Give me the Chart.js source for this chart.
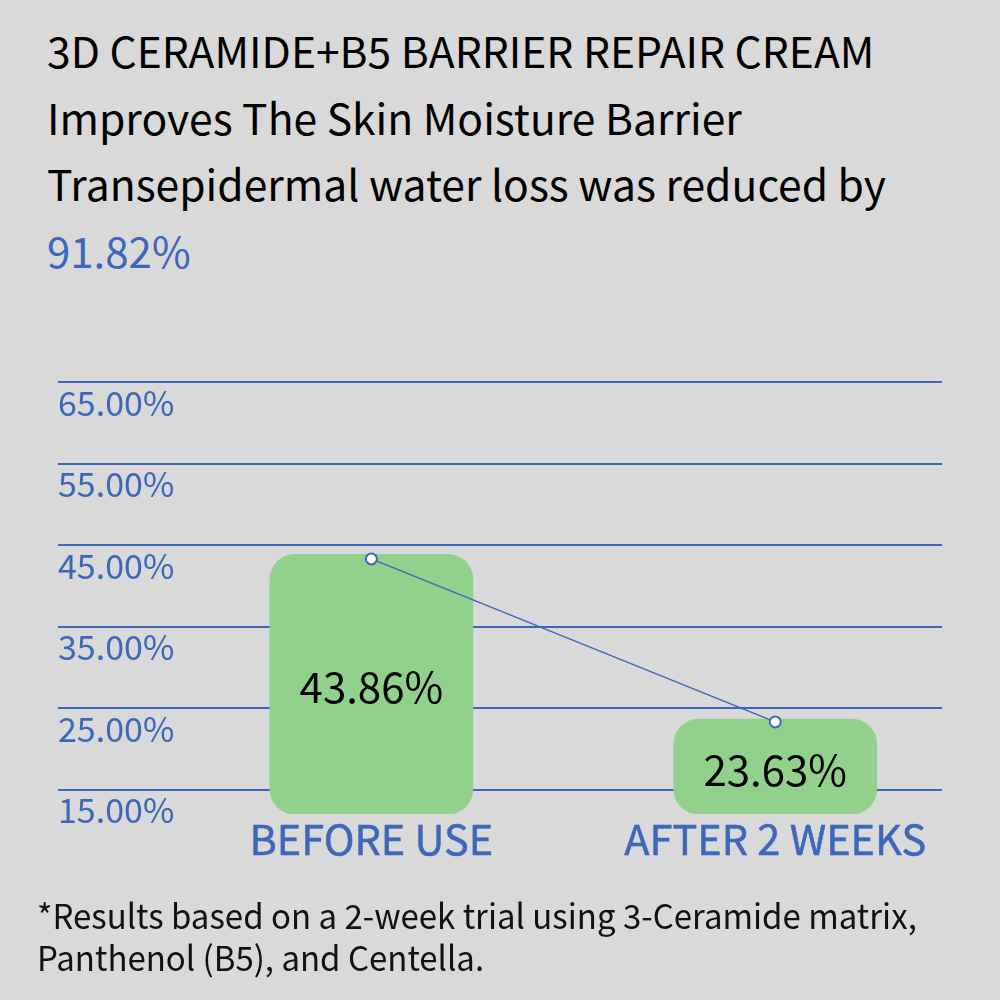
<!DOCTYPE html>
<html>
<head>
<meta charset="utf-8">
<script src="https://cdn.jsdelivr.net/npm/chart.js@4"></script>
<style>
  html, body { margin: 0; padding: 0; background: #d9d9d9; }
  #wrap { position: relative; width: 1000px; height: 1000px; background: #d9d9d9; overflow: hidden; font-family: "Noto Sans CJK SC", "Noto Sans", sans-serif; }
  #title { position: absolute; left: 47px; top: 17px; font-size: 42.6px; line-height: 66.7px; color: #000; white-space: nowrap; }
  #title .hl { color: #3c67ba; font-size: 42px; }
  #note { position: absolute; left: 37px; top: 894px; font-size: 34px; line-height: 42px; color: #111; white-space: nowrap; transform-origin: 0 0; }
  canvas { position: absolute; left: 0; top: 0; }
</style>
</head>
<body>
<div id="wrap">
  <div id="title">
    <div>3D CERAMIDE+B5 BARRIER REPAIR CREAM</div>
    <div>Improves The Skin Moisture Barrier</div>
    <div>Transepidermal water loss was reduced by</div>
    <div class="hl">91.82%</div>
  </div>
  <canvas id="myChart" width="1000" height="1000"></canvas>
  <div id="note">
    <div id="note1">*Results based on a 2-week trial using 3-Ceramide matrix,</div>
    <div>Panthenol (B5), and Centella.</div>
  </div>
</div>
<script>
const categories = ['BEFORE USE', 'AFTER 2 WEEKS'];
const barValues = [43.86, 23.63];
const lineValues = [43.3, 23.3];
const yTicks = [15, 25, 35, 45, 55, 65];
const yMin = 12;
const yMax = 65;

const blue = '#3c67ba';
const green = '#92d18b';
const font = '"Noto Sans CJK SC", "Noto Sans", sans-serif';

// squeeze the footnote to its width in the picture
const note1 = document.getElementById('note1');
const noteW = note1.getBoundingClientRect().width;
document.getElementById('note').style.transform = 'scaleX(' + (880 / noteW) + ')';

// value text in the middle of each bar
const barText = {
  id: 'barText',
  afterDatasetsDraw(chart) {
    const ctx = chart.ctx;
    const meta = chart.getDatasetMeta(1);
    ctx.save();
    ctx.font = '42px ' + font;
    ctx.fillStyle = '#000';
    ctx.textAlign = 'center';
    ctx.textBaseline = 'middle';
    meta.data.forEach((bar, i) => {
      ctx.fillText(barValues[i].toFixed(2) + '%', bar.x, (bar.y + bar.base) / 2 + 3);
    });
    ctx.restore();
  }
};

const ctx = document.getElementById('myChart').getContext('2d');
const myChart = new Chart(ctx, {
  data: {
    datasets: [{
      type: 'line',
      data: lineValues.map((v, i) => ({x: i, y: v})),
      borderColor: blue,
      borderWidth: 1.5,
      pointRadius: 5.5,
      pointBackgroundColor: '#fff',
      pointBorderColor: blue,
      pointBorderWidth: 2,
      order: 0
    }, {
      type: 'bar',
      data: barValues.map((v, i) => ({x: i, y: v})),
      base: yMin,
      backgroundColor: green,
      borderRadius: 25,
      borderSkipped: false,
      barThickness: 203,
      order: 1
    }]
  },
  options: {
    responsive: false,
    animation: false,
    layout: { padding: { top: 382, left: 58, right: 58, bottom: 126 } },
    plugins: { legend: { display: false }, tooltip: { enabled: false } },
    scales: {
      x: {
        type: 'linear',
        min: -0.776,
        max: 1.413,
        offset: false,
        grid: { display: false },
        border: { display: false },
        afterBuildTicks: s => { s.ticks = categories.map((c, i) => ({value: i})); },
        afterFit: s => { s.height = 60; },
        ticks: {
          callback: v => categories[v],
          color: blue,
          textStrokeColor: blue,
          textStrokeWidth: 0.5,
          font: { family: font, size: 41.5 },
          padding: -8,
          maxRotation: 0,
          autoSkip: false
        }
      },
      y: {
        min: yMin,
        max: yMax,
        grid: { color: blue, lineWidth: 2, drawTicks: false },
        border: { display: false },
        afterBuildTicks: s => { s.ticks = yTicks.map(v => ({value: v})); },
        afterFit: s => { s.width = 0; },
        ticks: {
          mirror: true,
          padding: 0,
          labelOffset: 21,
          color: blue,
          font: { family: font, size: 34 },
          callback: v => v.toFixed(2) + '%'
        }
      }
    }
  },
  plugins: [barText]
});
</script>
</body>
</html>
